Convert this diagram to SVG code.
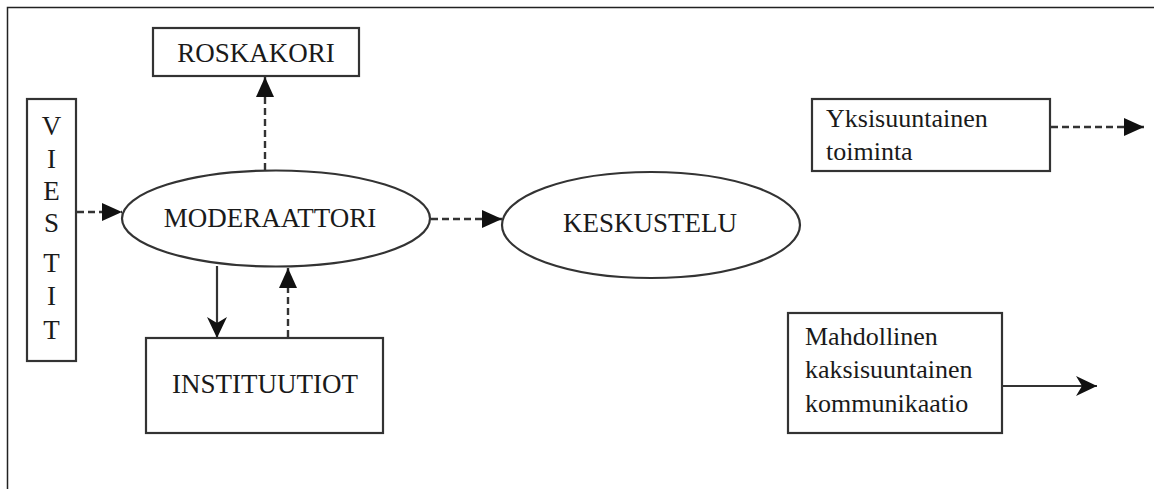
<svg xmlns="http://www.w3.org/2000/svg" width="1154" height="489" viewBox="0 0 1154 489">
<defs>
<style>
.box{fill:#fff;stroke:#333;stroke-width:2.2}
.t{font-family:"Liberation Serif","Times New Roman",serif;font-size:27px;fill:#1a1a1a}
.s{font-size:26px}
.c{text-anchor:middle}
.dash{stroke:#333;stroke-width:2.4;stroke-dasharray:7 4;fill:none}
.solid{stroke:#333;stroke-width:2.2;fill:none}
</style>
<marker id="tri" markerUnits="userSpaceOnUse" markerWidth="20" markerHeight="18" refX="20" refY="9" orient="auto">
<path d="M0,0 L20,9 L0,18 z" fill="#111"/>
</marker>
<marker id="barb" markerUnits="userSpaceOnUse" markerWidth="21" markerHeight="20" refX="21" refY="10" orient="auto">
<path d="M0,0 L21,10 L0,20 L6,10 z" fill="#111"/>
</marker>
</defs>
<rect width="1154" height="489" fill="#fff"/>
<g id="frame">
<path d="M7.5,489 L7.5,7.5 L1154,7.5" fill="none" stroke="#222" stroke-width="1.5"/>
</g>
<g id="connectors">
<line class="dash" x1="77" y1="212" x2="122" y2="212" marker-end="url(#tri)"/>
<line class="dash" x1="265" y1="170" x2="265" y2="77" marker-end="url(#tri)"/>
<line class="dash" x1="431" y1="219" x2="502" y2="219" marker-end="url(#tri)"/>
<line class="solid" x1="217" y1="266" x2="217" y2="338" marker-end="url(#barb)"/>
<line class="dash" x1="288" y1="337" x2="288" y2="268" marker-end="url(#tri)"/>
<line class="dash" x1="1051" y1="127" x2="1144" y2="127" marker-end="url(#tri)"/>
<line class="solid" x1="1003" y1="386" x2="1097" y2="386" marker-end="url(#barb)"/>
</g>
<g id="roskakori">
<rect class="box" x="153" y="28" width="206" height="48"/>
<text class="t c" x="256" y="62">ROSKAKORI</text>
</g>
<g id="viestit">
<rect class="box" x="27" y="99" width="49" height="262"/>
<text class="t c" x="51.5" y="135">V</text>
<text class="t c" x="51.5" y="168">I</text>
<text class="t c" x="51.5" y="200">E</text>
<text class="t c" x="51.5" y="232">S</text>
<text class="t c" x="51.5" y="272">T</text>
<text class="t c" x="51.5" y="305">I</text>
<text class="t c" x="51.5" y="339">T</text>
</g>
<g id="moderaattori">
<ellipse class="box" cx="276" cy="218.5" rx="154" ry="48"/>
<text class="t c" x="270" y="227">MODERAATTORI</text>
</g>
<g id="instituutiot">
<rect class="box" x="146" y="338" width="237" height="95"/>
<text class="t c" x="265" y="393">INSTITUUTIOT</text>
</g>
<g id="keskustelu">
<ellipse class="box" cx="651" cy="225" rx="149" ry="53"/>
<text class="t c" x="650" y="232">KESKUSTELU</text>
</g>
<g id="yksisuuntainen">
<rect class="box" x="812" y="99" width="238" height="72"/>
<text class="t s" x="826" y="127">Yksisuuntainen</text>
<text class="t s" x="826" y="160">toiminta</text>
</g>
<g id="mahdollinen">
<rect class="box" x="788" y="313" width="214" height="120"/>
<text class="t s" x="805" y="345">Mahdollinen</text>
<text class="t s" x="805" y="378">kaksisuuntainen</text>
<text class="t s" x="805" y="412">kommunikaatio</text>
</g>
</svg>
